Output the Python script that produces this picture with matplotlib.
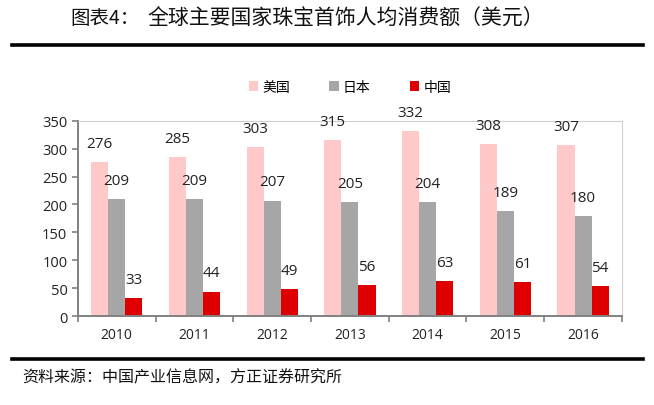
import matplotlib.pyplot as plt
import numpy as np
from matplotlib.lines import Line2D
from matplotlib.ticker import FixedLocator

plt.rcParams['font.family'] = ['Noto Sans CJK SC', 'DejaVu Sans']

# data
years = ['2010', '2011', '2012', '2013', '2014', '2015', '2016']
usa = [276, 285, 303, 315, 332, 308, 307]
japan = [209, 209, 207, 205, 204, 189, 180]
china = [33, 44, 49, 56, 63, 61, 54]
series_names = ['美国', '日本', '中国']
colors = ['#FFC9C9', '#A6A6A6', '#DE0000']

fig = plt.figure(figsize=(6.54, 4.06), dpi=100)
ax = fig.add_axes([0.119, 0.219, 0.832, 0.481])

x = np.arange(len(years))
w = 0.22
for i, (vals, c, name) in enumerate(zip([usa, japan, china], colors, series_names)):
    b = ax.bar(x + (i - 1) * w, vals, w, color=c, label=name)
    ax.bar_label(b, padding=8, fontsize=11, color='#222222', family='Open Sans')

ax.set_xlim(-0.5, len(years) - 0.5)
ax.set_ylim(0, 350)
ax.set_yticks(range(0, 351, 50))
ax.set_xticks(x)
ax.set_xticklabels(years)
ax.xaxis.set_minor_locator(FixedLocator(np.arange(-0.5, len(years), 1)))
ax.tick_params(axis='x', which='major', length=0, pad=8, labelsize=10, labelcolor='#222222')
ax.tick_params(axis='x', which='minor', length=4, width=1.2, color='#808080', direction='out')
ax.tick_params(axis='y', length=4, width=1.2, color='#808080', labelsize=10.5, labelcolor='#222222')
for lab in ax.get_xticklabels() + ax.get_yticklabels():
    lab.set_family('Open Sans')

for s in ['left', 'bottom']:
    ax.spines[s].set_color('#808080')
    ax.spines[s].set_linewidth(1.4)
for s in ['top', 'right']:
    ax.spines[s].set_color('#D0D0D0')
    ax.spines[s].set_linewidth(0.8)

fig.legend(loc='center', bbox_to_anchor=(0.535, 0.783), ncol=3, frameon=False,
           fontsize=10, handlelength=0.7, handleheight=0.7, handletextpad=0.3,
           columnspacing=2.8)

fig.text(0.107, 0.955, '图表4：', ha='left', va='center', fontsize=14, color='#111111')
fig.text(0.529, 0.955, '全球主要国家珠宝首饰人均消费额（美元）',
         ha='center', va='center', fontsize=15, color='#111111')
fig.add_artist(Line2D([0.018, 0.983], [0.887, 0.887], color='black', lw=2.6))
fig.add_artist(Line2D([0.018, 0.983], [0.113, 0.113], color='black', lw=2.6))
fig.text(0.034, 0.07, '资料来源：中国产业信息网，方正证券研究所',
         ha='left', va='center', fontsize=11.5, style='italic', color='#111111')

fig.savefig('out.png', dpi=100)
